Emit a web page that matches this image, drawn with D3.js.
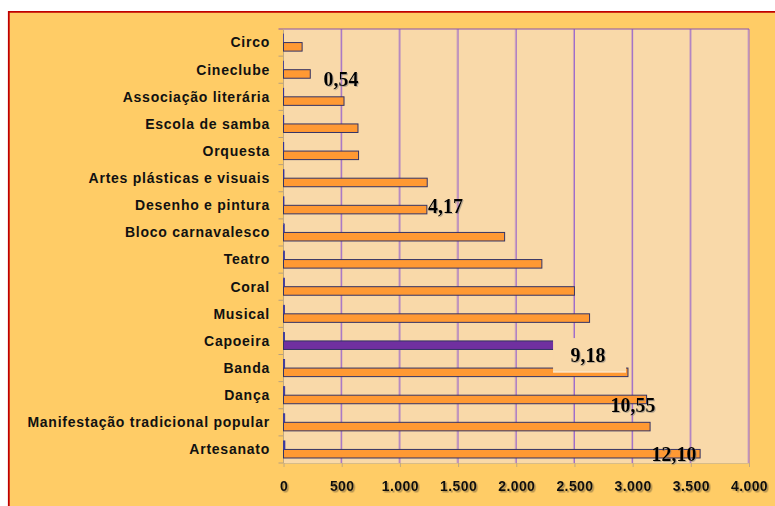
<!DOCTYPE html>
<meta charset="utf-8">
<style>
body { margin: 0; background: #fff; }
svg { display: block; }
.cat text { font: bold 14px "Liberation Sans", Arial, sans-serif; fill: #111; letter-spacing: 0.75px; }
.xaxis text { font: bold 14px "Liberation Sans", Arial, sans-serif; fill: #111; letter-spacing: 0.4px; }
.note { font: bold 20px "Liberation Serif", "Times New Roman", serif; fill: #000; }
</style>
<svg width="775" height="506"></svg>
<script src="https://cdn.jsdelivr.net/npm/d3@7"></script>
<script>

// categories, top to bottom
var categories = ["Circo", "Cineclube", "Associação literária", "Escola de samba", "Orquesta",
  "Artes plásticas e visuais", "Desenho e pintura", "Bloco carnavalesco", "Teatro", "Coral",
  "Musical", "Capoeira", "Banda", "Dança", "Manifestação tradicional popular", "Artesanato"];

// number of municipalities (orange bars)
var counts = [160, 230, 520, 640, 645, 1235, 1232, 1900, 2220, 2500,
  2630, 2713, 2960, 3120, 3150, 3580];

// percentage series (plotted on the same axis, so it shows as hairlines)
var percents = [0.54, 0.78, 1.76, 2.17, 2.18, 4.18, 4.17, 6.43, 7.51, 8.46,
  8.90, 9.18, 10.02, 10.55, 10.66, 12.10];

var xTicks = [0, 500, 1000, 1500, 2000, 2500, 3000, 3500, 4000];

// hand-placed value labels
var notes = [
  {text: "0,54", value: 494, cat: "Associação literária", dy: -11},
  {text: "4,17", value: 1392, cat: "Desenho e pintura", dy: 7.5},
  {text: "9,18", value: 2617, cat: "Banda", dy: -6, box: true},
  {text: "10,55", value: 3003, cat: "Manifestação tradicional popular", dy: -10},
  {text: "12,10", value: 3356, cat: "Artesanato", dy: 11.5}
];

var svg = d3.select("svg");
var plot = {left: 283.5, right: 749, top: 29, bottom: 463};

var defs = svg.append("defs");
defs.append("filter").attr("id", "shadow")
  .attr("x", "-10%").attr("y", "-20%").attr("width", "130%").attr("height", "150%")
  .append("feDropShadow")
    .attr("dx", 1.5).attr("dy", 1.5).attr("stdDeviation", 0.7)
    .attr("flood-color", "#6b5a3a").attr("flood-opacity", 0.55);
defs.append("filter").attr("id", "shadow2")
  .attr("x", "-10%").attr("y", "-20%").attr("width", "130%").attr("height", "150%")
  .append("feDropShadow")
    .attr("dx", 1).attr("dy", 1).attr("stdDeviation", 0.5)
    .attr("flood-color", "#777").attr("flood-opacity", 0.5);

// chart area with red border on top and left
svg.append("rect")
  .attr("x", 9).attr("y", 12).attr("width", 775).attr("height", 506)
  .attr("fill", "#FFCC66");
svg.append("path")
  .attr("d", "M8.8,506V11.8H775")
  .attr("fill", "none").attr("stroke", "#C00000").attr("stroke-width", 1.8);

var x = d3.scaleLinear().domain([0, 4000]).range([plot.left, plot.right]);
var y = d3.scaleBand().domain(categories).range([plot.top, plot.bottom])
  .paddingInner(0.37).paddingOuter(0.185);
var y1 = d3.scaleBand().domain(["pct", "n"]).range([0, y.bandwidth()]);

// plot background
svg.append("rect")
  .attr("x", plot.left).attr("y", plot.top)
  .attr("width", plot.right - plot.left).attr("height", plot.bottom - plot.top)
  .attr("fill", "#F9D9A9");

// gridlines
var grid = svg.append("g");
grid.selectAll("line.sh")
  .data(xTicks.slice(1))
  .enter().append("line")
    .attr("class", "sh")
    .attr("x1", function(d) { return x(d) - 1; }).attr("x2", function(d) { return x(d) - 1; })
    .attr("y1", plot.top).attr("y2", plot.bottom)
    .attr("stroke", "#D2A8B8").attr("stroke-width", 1);
grid.selectAll("line.g")
  .data(xTicks.slice(1))
  .enter().append("line")
    .attr("class", "g")
    .attr("x1", function(d) { return x(d); }).attr("x2", function(d) { return x(d); })
    .attr("y1", plot.top).attr("y2", plot.bottom)
    .attr("stroke", "#9966CC").attr("stroke-width", 1);
grid.append("line")
  .attr("x1", plot.left - 5).attr("x2", plot.right)
  .attr("y1", plot.top).attr("y2", plot.top)
  .attr("stroke", "#8855AA").attr("stroke-width", 1);

// left axis line and tick marks at band boundaries
var step = y.step();
var boundaries = d3.range(categories.length + 1).map(function(i) { return plot.top + i * step; });
svg.append("g").selectAll("line")
  .data(boundaries.slice(1))
  .enter().append("line")
    .attr("x1", plot.left - 5).attr("x2", plot.left)
    .attr("y1", function(d) { return d; }).attr("y2", function(d) { return d; })
    .attr("stroke", "#B8A080");
svg.append("line")
  .attr("x1", plot.left).attr("x2", plot.left)
  .attr("y1", plot.top).attr("y2", plot.bottom)
  .attr("stroke", "#C0A880");

// bars
var rows = svg.append("g").selectAll("g")
  .data(categories)
  .enter().append("g")
    .attr("transform", function(d) { return "translate(0," + y(d) + ")"; });

rows.append("rect")
  .attr("x", x(0))
  .attr("y", y1("n"))
  .attr("width", function(d, i) { return x(counts[i]) - x(0); })
  .attr("height", y1.bandwidth())
  .attr("fill", function(d) { return d === "Capoeira" ? "#7030A0" : "#FF9933"; })
  .attr("stroke", "#333366").attr("stroke-width", 1);

rows.append("rect")
  .attr("x", x(0))
  .attr("y", y1("pct"))
  .attr("width", function(d, i) { return x(percents[i]) - x(0); })
  .attr("height", y1.bandwidth())
  .attr("fill", "#3333AA")
  .attr("stroke", "#333399").attr("stroke-width", 0.8);

// bottom axis
var fmt = d3.formatLocale({decimal: ",", thousands: ".", grouping: [3], currency: ["", ""]}).format(",d");
var xAxis = svg.append("g")
  .attr("class", "xaxis")
  .attr("transform", "translate(0," + plot.bottom + ")")
  .call(d3.axisBottom(x).tickValues(xTicks).tickFormat(fmt).tickSize(4).tickSizeOuter(0));
xAxis.select(".domain").attr("stroke", "#D8BC88");
xAxis.selectAll(".tick line").attr("stroke", "#C0A880");
xAxis.selectAll(".tick text")
  .attr("y", 23).attr("dy", "0.35em")
  .attr("filter", "url(#shadow)");

// category labels
svg.append("g").attr("class", "cat")
  .selectAll("text")
  .data(categories)
  .enter().append("text")
    .attr("x", 270)
    .attr("y", function(d) { return y(d) + y.bandwidth() / 2; })
    .attr("dy", "0.35em")
    .attr("text-anchor", "end")
    .text(function(d) { return d; });

// value notes
var ng = svg.append("g");
notes.forEach(function(n) {
  var cx = x(n.value);
  var cy = y(n.cat) + y.bandwidth() / 2 + n.dy;
  if (n.box) {
    ng.append("rect")
      .attr("x", cx - 35).attr("y", cy - 24)
      .attr("width", 73).attr("height", 34)
      .attr("fill", "#F9D9A9");
    ng.append("line")
      .attr("x1", cx - 35).attr("x2", cx + 38)
      .attr("y1", cy + 10).attr("y2", cy + 10)
      .attr("stroke", "#FFF4E4").attr("stroke-width", 1);
  }
  ng.append("text")
    .attr("class", "note")
    .attr("x", cx).attr("y", cy)
    .attr("text-anchor", "middle")
    .attr("filter", "url(#shadow2)")
    .text(n.text);
});

</script>
